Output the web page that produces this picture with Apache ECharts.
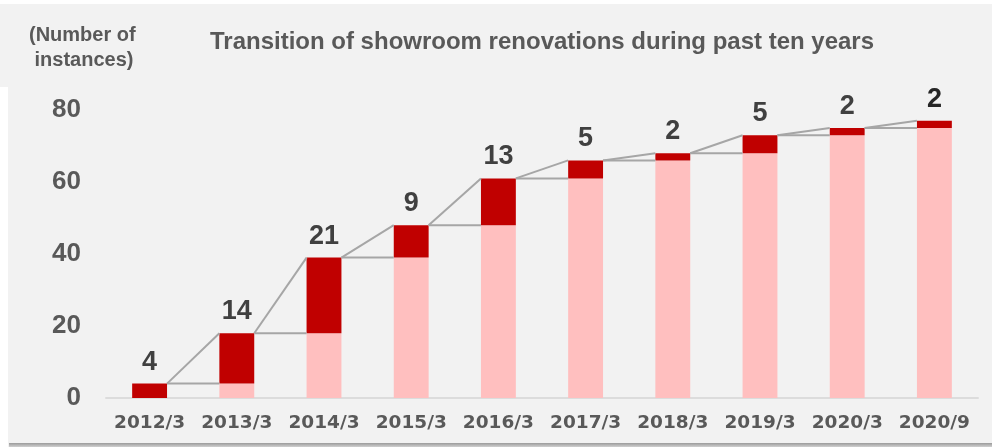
<!DOCTYPE html>
<html>
<head>
<meta charset="utf-8">
<script src="https://cdn.jsdelivr.net/npm/echarts@6/dist/echarts.min.js"></script>
<style>
  html, body { margin: 0; padding: 0; background: #ffffff; }
  #main { width: 992px; height: 447px; }
</style>
</head>
<body>
<div id="main"></div>
<script>
// data
const categories = ['2012/3', '2013/3', '2014/3', '2015/3', '2016/3', '2017/3', '2018/3', '2019/3', '2020/3', '2020/9'];
const added = [4, 14, 21, 9, 13, 5, 2, 5, 2, 2];      // new renovations (dark red)
const prior = [0, 4, 18, 39, 48, 61, 66, 68, 73, 75];  // cumulative before (pink)
const yTicks = [0, 20, 40, 60, 80];

const totals = added.map((v, i) => v + prior[i]);
const connectors = categories.slice(1).map((c, i) => [i + 1, totals[i], totals[i + 1]]);

const barRatio = 0.4;
const chart = echarts.init(document.getElementById('main'));

chart.setOption({
    backgroundColor: '#f2f2f2',
    animation: false,
    title: {
        text: 'Transition of showroom renovations during past ten years',
        left: 537,
        top: 25,
        textAlign: 'center',
        textStyle: { fontFamily: 'Liberation Sans', fontWeight: 'bold', fontSize: 24, color: '#595959' }
    },
    graphic: [
        { type: 'rect', shape: { x: 0, y: 0, width: 992, height: 4 }, style: { fill: '#ffffff' }, silent: true },
        { type: 'rect', shape: { x: 0, y: 87, width: 8, height: 360 }, style: { fill: '#ffffff' }, silent: true },
        {
            type: 'rect', shape: { x: 9, y: 443, width: 983, height: 4 },
            style: {
                fill: new echarts.graphic.LinearGradient(0, 0, 0, 1, [
                    { offset: 0, color: '#9a9a9a' }, { offset: 1, color: '#d0d0d0' }
                ])
            },
            silent: true
        },
        {
            type: 'text', left: 29, top: 23,
            style: {
                text: '(Number of\n instances)',
                font: 'bold 20px "Liberation Sans"',
                fill: '#595959',
                lineHeight: 25
            }
        }
    ],
    grid: { left: 106, right: 14, top: 110, bottom: 49 },
    xAxis: {
        type: 'category',
        data: categories,
        axisLine: { lineStyle: { color: '#dcdcdc', width: 2 } },
        axisTick: { show: false },
        axisLabel: {
            interval: 0,
            hideOverlap: false,
            fontFamily: 'DejaVu Sans', fontWeight: 'bold', fontSize: 18.5, color: '#595959', margin: 16
        }
    },
    yAxis: {
        type: 'value',
        min: yTicks[0],
        max: yTicks[yTicks.length - 1],
        interval: 20,
        splitLine: { show: false },
        axisLine: { show: false },
        axisLabel: { fontFamily: 'Liberation Sans', fontWeight: 'bold', fontSize: 26, color: '#595959', margin: 25 }
    },
    series: [
        {
            type: 'bar',
            stack: 'total',
            data: prior,
            barWidth: (barRatio * 100) + '%',
            itemStyle: { color: '#ffbfbf' }
        },
        {
            type: 'bar',
            stack: 'total',
            data: added.map((v, i) => i === added.length - 1
                ? { value: v, label: { color: '#262626' } }
                : v),
            itemStyle: { color: '#c00000' },
            label: {
                show: true,
                position: 'top',
                distance: 8,
                fontFamily: 'Liberation Sans',
                fontWeight: 'bold',
                fontSize: 27,
                color: '#404040'
            }
        },
        {
            type: 'custom',
            z: 5,
            silent: true,
            data: connectors,
            renderItem: function (params, api) {
                const i = api.value(0);
                const half = api.size([1, 0])[0] * barRatio / 2;
                const a = api.coord([i - 1, api.value(1)]);
                const b = api.coord([i, api.value(1)]);
                const c = api.coord([i, api.value(2)]);
                const style = { stroke: '#a6a6a6', lineWidth: 2 };
                return {
                    type: 'group',
                    children: [
                        { type: 'line', shape: { x1: a[0] + half, y1: a[1], x2: b[0] - half, y2: b[1] }, style: style },
                        { type: 'line', shape: { x1: a[0] + half, y1: a[1], x2: c[0] - half, y2: c[1] }, style: style }
                    ]
                };
            }
        }
    ]
});
</script>
</body>
</html>
